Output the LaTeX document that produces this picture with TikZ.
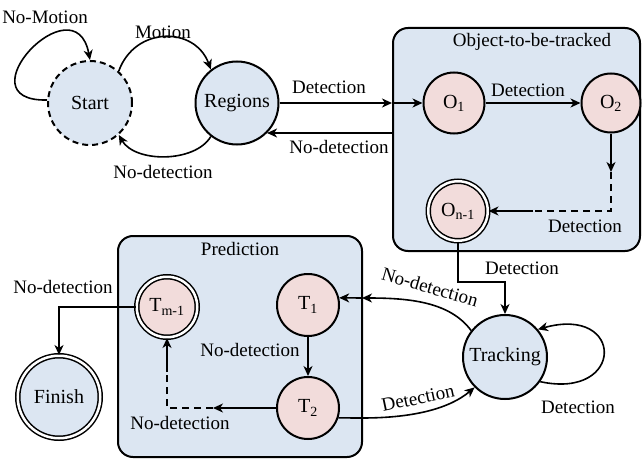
\documentclass[tikz,border=0pt]{standalone}
\usepackage{fontspec}
\setmainfont{Liberation Serif}
\usetikzlibrary{arrows.meta}
\definecolor{nodeblue}{HTML}{DCE6F2}
\definecolor{nodepink}{HTML}{F2DCDB}
\begin{document}
\begin{tikzpicture}[x=1pt, y=-1pt,
  state/.style={circle, draw, line width=2pt, fill=nodeblue, inner sep=0pt, font=\fontsize{20}{24}\selectfont},
  substate/.style={circle, draw, line width=2pt, fill=nodepink, inner sep=0pt, font=\fontsize{20}{24}\selectfont},
  dbl/.style={double, double distance=2.5pt, line width=1.5pt},
  arr/.style={line width=1.6pt, -{Stealth[length=10pt,width=9pt,inset=3pt]}},
  dsh/.style={line width=1.6pt, dash pattern=on 7pt off 5pt},
  lbl/.style={font=\fontsize{19}{22}\selectfont, inner sep=0pt},
  groupbox/.style={draw, line width=2pt, rounded corners=15pt, fill=nodeblue}]
\useasboundingbox (0,0) rectangle (642,460);

% group boxes
\draw[groupbox] (393,28) rectangle (640,251);
\node[lbl] (objt) at (532,42) {Object-to-be-tracked};
\draw[groupbox] (118,236) rectangle (362,457);
\node[lbl] (predt) at (240,249) {Prediction};

% states
\node[state, dashed, dash pattern=on 6pt off 4pt, minimum size=84pt] (Start) at (90,103) {Start};
\node[state, minimum size=83pt] (Regions) at (237,103) {Regions};
\node[substate, minimum size=61pt] (O1) at (454,103) {O\textsubscript{1}};
\node[substate, minimum size=59pt] (O2) at (611,103) {O\textsubscript{2}};
\node[substate, dbl, minimum size=59.5pt] (On1) at (458,211) {O\textsubscript{n-1}};
\node[state, minimum size=84pt] (Tracking) at (505,357) {Tracking};
\node[substate, minimum size=62pt] (T1) at (308,305) {T\textsubscript{1}};
\node[substate, minimum size=62pt] (T2) at (308,408) {T\textsubscript{2}};
\node[substate, dbl, minimum size=60.5pt] (Tm1) at (167,307) {T\textsubscript{m-1}};
\node[state, dbl, minimum size=82.5pt] (Finish) at (59,397) {Finish};

% Start self loop
\draw[arr] (Start.176) .. controls (-40,102) and (75,-20) .. (Start.90);
\node[lbl] (lnm) at (45,17) {No-Motion};

% Start -> Regions
\draw[arr] (Start.48) .. controls (135,26) and (195,26) .. (Regions.128);
\node[lbl] (lm) at (163,32) {Motion};

% Regions -> Start
\draw[arr] (Regions.232) .. controls (195,163) and (135,163) .. (Start.-48);
\node[lbl] (lnd1) at (163,172) {No-detection};

% Regions -> O1 via box edge
\coordinate (boxin) at (392,103);
\draw[arr] (Regions) -- (boxin);
\draw[arr] (boxin) -- (O1);
\node[lbl] (ld1) at (329,87) {Detection};

% box -> Regions
\coordinate (boxout) at (392,133);
\draw[arr] (boxout) -- (Regions.-45 |- boxout);
\node[lbl] (lnd2) at (339,147) {No-detection};

% O1 -> O2
\draw[arr] (O1) -- (O2);
\node[lbl] (ld2) at (528,90) {Detection};

% O2 -> On1
\coordinate (c1) at (611,172);
\coordinate (c2) at (611,211);
\coordinate (c3) at (533,211);
\draw[arr] (O2.south) -- (c1);
\draw[dsh] (c1) -- (c2) -- (c3);
\draw[arr] (c3) -- (On1.east);
\node[lbl] (ld3) at (585,226) {Detection};

% On1 -> Tracking
\coordinate (k) at (505,282);
\draw[arr] (On1.south) |- (k) -- (Tracking.north);
\node[lbl] (ld4) at (522,268) {Detection};

% Tracking self loop
\draw[arr] (Tracking.-35) .. controls (625,400) and (625,305) .. (Tracking.40);
\node[lbl] (ld5) at (578,407) {Detection};

% Tracking -> T1
\coordinate (bt1) at (362,298);
\draw[arr] (Tracking.142) .. controls (450,302) and (410,298) .. (bt1);
\draw[arr] (bt1) -- (T1.13);
\node[lbl, rotate=-16] (lnd3) at (430,287) {No-detection};

% T2 -> Tracking
\coordinate (bt2) at (362,418);
\draw[arr] (T2.-18) -- (bt2) .. controls (415,418) and (450,408) .. (Tracking.-135);
\node[lbl, rotate=12] (ld6) at (418,398) {Detection};

% T1 -> T2
\draw[arr] (T1) -- (T2);
\node[lbl] (lnd4) at (250,350) {No-detection};

% T2 -> Tm1
\coordinate (d1) at (213,408);
\coordinate (d2) at (167,408);
\coordinate (d3) at (167,372);
\draw[arr] (T2.west) -- (d1);
\draw[dsh] (d1) -- (d2) -- (d3);
\draw[arr] (d3) -- (Tm1.south);
\node[lbl] (lnd5) at (180,423) {No-detection};

% Tm1 -> Finish
\draw[arr] (Tm1.west) -| (Finish.north);
\node[lbl] (lnd6) at (63,287) {No-detection};
\end{tikzpicture}
\end{document}
